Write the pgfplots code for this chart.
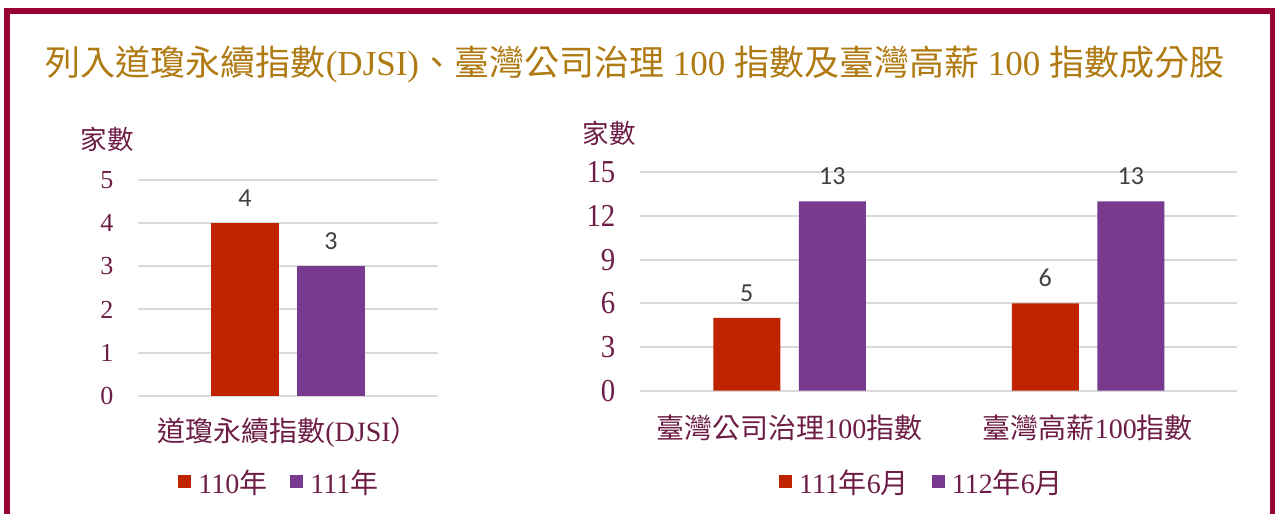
\documentclass[border=0pt]{standalone}
\usepackage{pgfplots}
\pgfplotsset{compat=1.18}
\usepackage{fontspec}
\setmainfont{Liberation Serif}
\newfontfamily\cjk{Noto Sans CJK TC}
\newfontfamily\carl{Carlito}
\newfontfamily\digR[FakeStretch=0.9]{Liberation Serif}
\definecolor{framec}{HTML}{990033}
\definecolor{titlec}{HTML}{B07A12}
\definecolor{labc}{HTML}{6E1E46}
\definecolor{redb}{HTML}{C02300}
\definecolor{purb}{HTML}{783A8E}
\definecolor{datac}{HTML}{404040}
\definecolor{gridc}{HTML}{D9D9D9}

\pgfplotsset{
  mybars/.style={
    scale only axis,
    anchor=south west,
    clip=false,
    axis line style={draw=none},
    major tick length=0pt,
    ymajorgrids,
    grid style={gridc, line width=2pt},
    ybar,
    legend image code/.code={\fill[##1] (0pt,-6.5pt) rectangle (13pt,6.5pt);},
    /pgf/number format/assume math mode=true,
    nodes near coords,
    nodes near coords style={font=\carl\fontsize{26}{30}\selectfont, text=datac, inner sep=0pt, anchor=south, yshift=16.5pt},
    xticklabel style={anchor=center, yshift=-37pt, font=\fontsize{28}{32}\selectfont, text=labc},
    yticklabel style={anchor=east, inner sep=0pt, xshift=-24.5pt, text=labc},
    legend style={draw=none, fill=none, anchor=center, legend columns=-1,
      font=\fontsize{28}{32}\selectfont, text=labc, inner sep=0pt,
      nodes={inner sep=0pt},
      /tikz/every odd column/.append style={column sep=7pt},
      /tikz/every even column/.append style={column sep=23pt}},
    every axis y label/.style={anchor=center, font=\cjk\fontsize{26.5}{30}\selectfont, text=labc},
  }
}

\pgfplotstableread{
x y
0 4
}\leftA
\pgfplotstableread{
x y
0 3
}\leftB
\pgfplotstableread{
x y
0 5
1 6
}\rightA
\pgfplotstableread{
x y
0 13
1 13
}\rightB

\begin{document}
\begin{tikzpicture}
\path[use as bounding box] (0,0) rectangle (1275pt,514pt);
\fill[white] (0,0) rectangle (1275pt,514pt);
\draw[framec, line width=6pt] (6.5pt,0pt) -- (6.5pt,503pt) -- (1273pt,503pt) -- (1273pt,0pt);
\node[text=titlec, font=\fontsize{35}{41}\selectfont, inner sep=0pt] at (635pt,450pt)
  {{\cjk 列入道瓊永續指數}(DJSI){\cjk 、臺灣公司治理} 100 {\cjk 指數及臺灣高薪} 100 {\cjk 指數成分股}};

% left chart
\begin{axis}[mybars,
  at={(138pt,118.3pt)},
  width=300pt, height=215.7pt,
  xmin=-0.5, xmax=0.5, ymin=0, ymax=5,
  bar width=68pt,
  xtick={0}, xticklabels={{\cjk 道瓊永續指數}(DJSI{\cjk ）}},
  ytick={0,1,2,3,4,5}, yticklabels={0,1,2,3,4,5},
  yticklabel style={font=\fontsize{26}{30}\selectfont},
  ylabel={家數},
  every axis y label/.append style={at={(axis description cs:-0.103,1.19)}},
  legend style={at={(axis description cs:0.468,-0.40)}},
]
\addplot[fill=redb, draw=none, bar shift=-43pt] table[x=x,y=y] {\leftA};
\addplot[fill=purb, draw=none, bar shift=43pt] table[x=x,y=y] {\leftB};
\legend{110{\cjk 年}, 111{\cjk 年}}
\end{axis}

% right chart
\begin{axis}[mybars,
  at={(640pt,123.3pt)},
  width=597pt, height=218.4pt,
  xmin=-0.5, xmax=1.5, ymin=0, ymax=15,
  bar width=67pt,
  xtick={0,1}, xticklabels={{\cjk 臺灣公司治理}100{\cjk 指數}, {\cjk 臺灣高薪}100{\cjk 指數}},
  ytick={0,3,6,9,12,15}, yticklabels={0,3,6,9,12,15},
  yticklabel style={font=\digR\fontsize{32}{36}\selectfont},
  ylabel={家數},
  every axis y label/.append style={at={(axis description cs:-0.0511,1.1777)}},
  legend style={at={(axis description cs:0.4707,-0.418)}},
]
\addplot[fill=redb, draw=none, bar shift=-42.5pt] table[x=x,y=y] {\rightA};
\addplot[fill=purb, draw=none, bar shift=43pt] table[x=x,y=y] {\rightB};
\legend{111{\cjk 年}6{\cjk 月}, 112{\cjk 年}6{\cjk 月}}
\end{axis}
\end{tikzpicture}
\end{document}
